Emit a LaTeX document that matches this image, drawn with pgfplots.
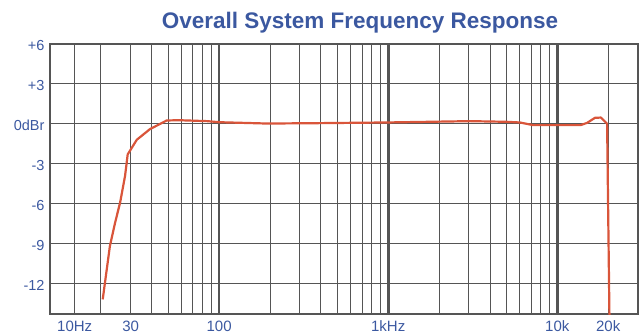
\documentclass[border=0pt]{standalone}
\usepackage{pgfplots}
\pgfplotsset{compat=1.18}
\usepackage{fontspec}
\setmainfont{Liberation Sans}
\definecolor{lblblue}{RGB}{59,88,160}
\definecolor{curve}{RGB}{217,85,58}
\definecolor{gridc}{RGB}{85,85,85}
\begin{document}
\begin{tikzpicture}
\useasboundingbox (-50pt,-21pt) rectangle (592pt,314pt);
\begin{axis}[
  at={(0,0)}, anchor=south west,
  scale only axis, width=588pt, height=270pt,
  xmode=log, xmin=10, xmax=30000, ymin=-14.3, ymax=6,
  axis line style={gridc, line width=2.4pt},
  xtick={14,30,100,1000,10000,20000},
  xticklabels={10Hz,30,100,1kHz,10k,20k},
  ytick={-12,-9,-6,-3,0,3,6},
  yticklabels={-12,-9,-6,-3,0dBr,+3,+6},
  minor xtick={14,20,30,40,50,60,70,80,90,200,300,400,500,600,700,800,900,2000,3000,4000,5000,6000,7000,8000,9000,20000},
  xmajorgrids=false, xminorgrids=true, ymajorgrids=true,
  minor grid style={gridc, line width=1pt},
  major grid style={gridc, line width=1pt},
  extra x ticks={100,1000,10000},
  extra x tick labels={},
  extra x tick style={grid=major, major grid style={gridc, line width=2.6pt}},
  major tick length=0pt, minor tick length=0pt,
  tick label style={text=lblblue},
  xticklabel style={font=\fontsize{15}{17}\selectfont, yshift=-3pt},
  yticklabel style={font=\fontsize{14.5}{17}\selectfont, xshift=-2pt, yshift=-2pt},
  clip=true,
]
\addplot[curve, line width=2.2pt, line join=round] coordinates {
(20.5,-13.2) (22.6,-9.2) (24.3,-7.4) (26.0,-5.9) (27.8,-3.9) (28.8,-2.3)
(32.6,-1.2) (39.0,-0.4) (49,0.25) (58,0.27) (85,0.2) (100,0.12) (192,0.02)
(396,0.05) (980,0.1) (3050,0.2) (5000,0.15) (6000,0.1) (7200,-0.1) (9500,-0.1)
(13700,-0.1) (15000,0.07) (16700,0.45) (18100,0.47) (19700,0.0) (20400,-16)
};
\end{axis}
\node[text=lblblue, anchor=base, font=\bfseries\fontsize{22.5}{26}\selectfont] at (310pt,285pt) {Overall System Frequency Response};
\end{tikzpicture}
\end{document}
